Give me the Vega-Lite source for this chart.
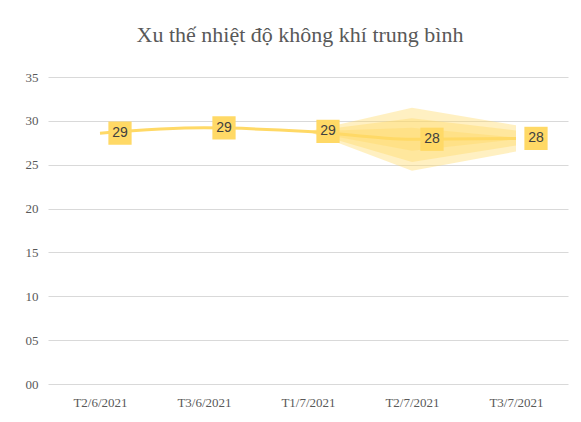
{
  "$schema": "https://vega.github.io/schema/vega-lite/v6.json",
  "autosize": "none",
  "width": 520,
  "height": 307,
  "padding": {"left": 48, "top": 77, "right": 13, "bottom": 38},
  "background": "white",
  "title": {
    "text": "Xu thế nhiệt độ không khí trung bình",
    "font": "Liberation Serif",
    "fontSize": 22,
    "fontWeight": "normal",
    "color": "#595959",
    "anchor": "middle",
    "dx": -8,
    "offset": 24
  },
  "datasets": {
    "series": [
      {"ngay": "T2/6/2021", "nhietdo": 28.6, "nhan": "29"},
      {"ngay": "T3/6/2021", "nhietdo": 29.2, "nhan": "29"},
      {"ngay": "T1/7/2021", "nhietdo": 28.8, "nhan": "29"},
      {"ngay": "T2/7/2021", "nhietdo": 27.9, "nhan": "28"},
      {"ngay": "T3/7/2021", "nhietdo": 28.0, "nhan": "28"}
    ],
    "bands": [
      {"ngay": "T1/7/2021", "muc": "ngoai", "thap": 28.8, "cao": 28.8},
      {"ngay": "T2/7/2021", "muc": "ngoai", "thap": 24.3, "cao": 31.5},
      {"ngay": "T3/7/2021", "muc": "ngoai", "thap": 26.5, "cao": 29.5},
      {"ngay": "T1/7/2021", "muc": "giua", "thap": 28.8, "cao": 28.8},
      {"ngay": "T2/7/2021", "muc": "giua", "thap": 25.3, "cao": 30.3},
      {"ngay": "T3/7/2021", "muc": "giua", "thap": 27.2, "cao": 28.9},
      {"ngay": "T1/7/2021", "muc": "trong", "thap": 28.8, "cao": 28.8},
      {"ngay": "T2/7/2021", "muc": "trong", "thap": 26.6, "cao": 29.2},
      {"ngay": "T3/7/2021", "muc": "trong", "thap": 27.9, "cao": 28.1}
    ]
  },
  "config": {
    "view": {"stroke": null},
    "axis": {
      "labelFont": "Liberation Serif",
      "labelFontSize": 13,
      "labelColor": "#595959",
      "gridColor": "#D9D9D9",
      "gridWidth": 1,
      "domain": false,
      "ticks": false,
      "title": null
    }
  },
  "encoding": {
    "x": {
      "field": "ngay",
      "type": "ordinal",
      "sort": null,
      "scale": {"type": "point", "padding": 0.5, "domain": ["T2/6/2021", "T3/6/2021", "T1/7/2021", "T2/7/2021", "T3/7/2021"]},
      "axis": {"labelAngle": 0, "labelPadding": 12, "grid": false}
    }
  },
  "layer": [
    {
      "data": {"name": "bands"},
      "mark": {"type": "area", "interpolate": "linear", "opacity": 0.4, "color": "#FFD966"},
      "encoding": {
        "y": {"field": "thap", "type": "quantitative", "stack": null, "scale": {"domain": [0, 35]}},
        "y2": {"field": "cao"},
        "detail": {"field": "muc"}
      }
    },
    {
      "data": {"name": "series"},
      "mark": {"type": "line", "interpolate": "monotone", "color": "#FFD966", "strokeWidth": 3},
      "encoding": {
        "y": {
          "field": "nhietdo",
          "type": "quantitative",
          "scale": {"domain": [0, 35]},
          "axis": {
            "values": [0, 5, 10, 15, 20, 25, 30, 35],
            "labelExpr": "datum.value < 10 ? '0' + datum.value : '' + datum.value",
            "labelPadding": 10,
            "grid": true
          }
        }
      }
    },
    {
      "data": {"name": "series"},
      "mark": {"type": "point", "shape": "square", "size": 540, "filled": true, "opacity": 1, "color": "#FFD966", "xOffset": 20},
      "encoding": {
        "y": {"field": "nhietdo", "type": "quantitative"}
      }
    },
    {
      "data": {"name": "series"},
      "mark": {"type": "text", "font": "Liberation Sans Narrow, Liberation Sans, sans-serif", "fontSize": 14, "color": "#404040", "dx": 20, "baseline": "middle", "align": "center"},
      "encoding": {
        "y": {"field": "nhietdo", "type": "quantitative"},
        "text": {"field": "nhan"}
      }
    }
  ]
}
